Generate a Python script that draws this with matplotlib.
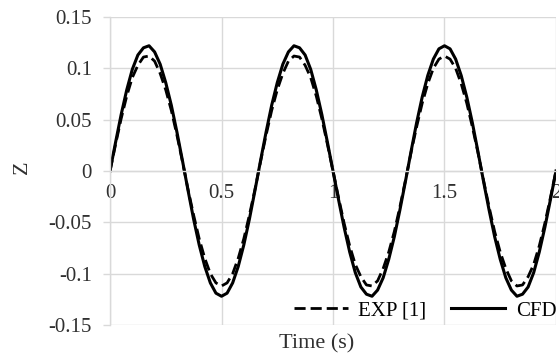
import matplotlib
matplotlib.use("Agg")
import matplotlib.pyplot as plt

# Heave displacement Z over time: experiment vs CFD
time = [0.000, 0.025, 0.050, 0.075, 0.100, 0.125, 0.150, 0.175, 0.200, 0.225,
        0.250, 0.275, 0.300, 0.325, 0.350, 0.375, 0.400, 0.425, 0.450, 0.475,
        0.500, 0.525, 0.550, 0.575, 0.600, 0.625, 0.650, 0.675, 0.700, 0.725,
        0.750, 0.775, 0.800, 0.825, 0.850, 0.875, 0.900, 0.925, 0.950, 0.975,
        1.000, 1.025, 1.050, 1.075, 1.100, 1.125, 1.150, 1.175, 1.200, 1.225,
        1.250, 1.275, 1.300, 1.325, 1.350, 1.375, 1.400, 1.425, 1.450, 1.475,
        1.500, 1.525, 1.550, 1.575, 1.600, 1.625, 1.650, 1.675, 1.700, 1.725,
        1.750, 1.775, 1.800, 1.825, 1.850, 1.875, 1.900, 1.925, 1.950, 1.975,
        2.000]

z_exp = [0.000, 0.026, 0.051, 0.073, 0.091, 0.103, 0.111, 0.112, 0.107, 0.095,
         0.079, 0.059, 0.035, 0.009, -0.018, -0.043, -0.066, -0.085, -0.100, -0.109,
         -0.112, -0.109, -0.100, -0.085, -0.066, -0.043, -0.018, 0.009, 0.035, 0.059,
         0.079, 0.095, 0.107, 0.112, 0.111, 0.103, 0.091, 0.073, 0.051, 0.026,
         0.000, -0.026, -0.051, -0.073, -0.091, -0.103, -0.111, -0.112, -0.107, -0.095,
         -0.079, -0.059, -0.035, -0.009, 0.018, 0.043, 0.066, 0.085, 0.100, 0.109,
         0.112, 0.109, 0.100, 0.085, 0.066, 0.043, 0.018, -0.009, -0.035, -0.059,
         -0.079, -0.095, -0.107, -0.112, -0.111, -0.103, -0.091, -0.073, -0.051, -0.026,
         0.000]

z_cfd = [0.000, 0.028, 0.055, 0.079, 0.099, 0.113, 0.120, 0.122, 0.116, 0.104,
         0.086, 0.064, 0.038, 0.010, -0.019, -0.047, -0.072, -0.093, -0.109, -0.119,
         -0.122, -0.119, -0.109, -0.093, -0.072, -0.047, -0.019, 0.010, 0.038, 0.064,
         0.086, 0.104, 0.116, 0.122, 0.120, 0.113, 0.099, 0.079, 0.055, 0.028,
         0.000, -0.028, -0.055, -0.079, -0.099, -0.113, -0.120, -0.122, -0.116, -0.104,
         -0.086, -0.064, -0.038, -0.010, 0.019, 0.047, 0.072, 0.093, 0.109, 0.119,
         0.122, 0.119, 0.109, 0.093, 0.072, 0.047, 0.019, -0.010, -0.038, -0.064,
         -0.086, -0.104, -0.116, -0.122, -0.120, -0.113, -0.099, -0.079, -0.055, -0.028,
         0.000]

x_ticks = [0, 0.5, 1, 1.5, 2]
x_tick_labels = ["0", "0.5", "1", "1.5", "2"]
y_ticks = [-0.15, -0.1, -0.05, 0, 0.05, 0.1, 0.15]
y_tick_labels = ["-0.15", "-0.1", "-0.05", "0", "0.05", "0.1", "0.15"]

plt.rcParams["font.family"] = ["Liberation Serif", "DejaVu Serif"]

fig = plt.figure(figsize=(5.59, 3.56), dpi=100)
ax = fig.add_axes([0.1968, 0.0871, 0.7978, 0.8651])

grid_col = "#d9d9d9"
text_col = "#303030"

ax.plot(time, z_exp, color="black", lw=2.0, ls=(0, (4, 1.8)), label="EXP [1]")
ax.plot(time, z_cfd, color="black", lw=2.2, label="CFD")

ax.set_xlim(0, 2)
ax.set_ylim(-0.15, 0.15)
ax.set_xticks(x_ticks)
ax.set_xticklabels(x_tick_labels)
ax.set_yticks(y_ticks)
ax.set_yticklabels(y_tick_labels)

ax.grid(True, color=grid_col, lw=1.0)
ax.set_axisbelow(True)

# category axis crosses at zero like a spreadsheet chart
for side in ["top", "right"]:
    ax.spines[side].set_visible(False)
ax.spines["bottom"].set_position(("data", 0))
ax.spines["bottom"].set_color(grid_col)
ax.spines["left"].set_color(grid_col)
ax.spines["bottom"].set_linewidth(1.0)
ax.spines["left"].set_linewidth(1.0)

ax.tick_params(axis="x", length=0, pad=9, labelsize=15, colors=text_col)
ax.tick_params(axis="y", length=5, width=1.0, color=grid_col, pad=8,
               labelsize=15, labelcolor=text_col)
for lbl in ax.get_xticklabels() + ax.get_yticklabels():
    lbl.set_clip_on(False)

fig.text(22 / 559, 1 - 167 / 356, "Z", rotation=90, fontsize=16,
         ha="center", va="center", color=text_col)
fig.text(317 / 559, 1 - 344 / 356, "Time (s)", fontsize=16,
         ha="center", va="center", color=text_col)

fig.legend(loc="center", bbox_to_anchor=(425 / 559, 1 - 311 / 356), ncol=2,
           frameon=False, fontsize=15, handlelength=2.6, handletextpad=0.5,
           columnspacing=1.2, borderpad=0, borderaxespad=0)

fig.savefig("out.png", dpi=100)
